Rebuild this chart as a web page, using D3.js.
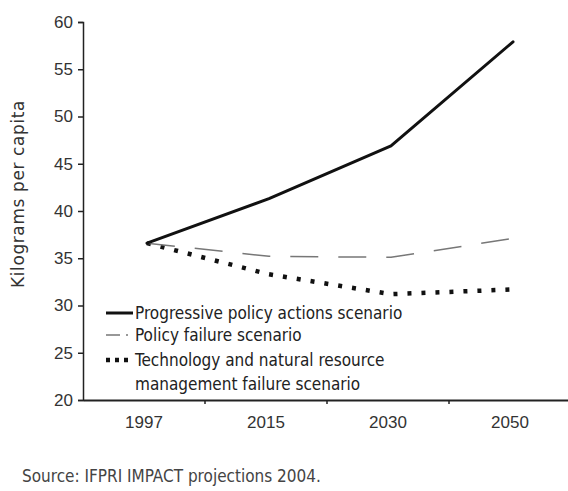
<!DOCTYPE html>
<html>
<head>
<meta charset="utf-8">
<style>
 body { margin: 0; background: #fff; }
 svg { font-family: "DejaVu Sans Condensed", "Liberation Sans Narrow", sans-serif; }
</style>
</head>
<body>
<svg width="568" height="491"></svg>
<script src="https://cdn.jsdelivr.net/npm/d3@7"></script>
<script>
// data
var years = ["1997", "2015", "2030", "2050"];
var progressive = [36.6, 41.3, 46.9, 57.9];
var policyFailure = [36.6, 35.2, 35.1, 37.1];
var techFailure = [36.6, 33.3, 31.2, 31.7];
var yTicks = [20, 25, 30, 35, 40, 45, 50, 55, 60];

var series = [
  { name: "Progressive policy actions scenario", values: progressive, color: "#111", width: 3, dash: null, cap: "round" },
  { name: "Policy failure scenario", values: policyFailure, color: "#777", width: 1.5, dash: "28,20", cap: "butt" },
  { name: "Technology and natural resource|management failure scenario", values: techFailure, color: "#111", width: 4.5, dash: "4,10", cap: "butt" }
];

var svg = d3.select("svg");
var m = { left: 83, right: 571, top: 22, bottom: 400 };

var x = d3.scaleBand().domain(years).range([m.left, m.right]);
var y = d3.scaleLinear().domain([20, 60]).range([m.bottom, m.top]);

// y axis
var yAxisG = svg.append("g")
    .attr("transform", "translate(" + m.left + ",0)")
    .call(d3.axisLeft(y).tickValues(yTicks).tickSize(5).tickPadding(5));
yAxisG.select(".domain").attr("stroke", "#222").attr("stroke-width", 1.5);
yAxisG.selectAll(".tick line").attr("stroke", "#222").attr("stroke-width", 1.5);
yAxisG.selectAll("text").style("font-size", "17px").attr("fill", "#333");

// x axis, ticks on band boundaries
var xAxisG = svg.append("g")
    .attr("transform", "translate(0," + m.bottom + ")")
    .call(d3.axisBottom(x).tickSize(0).tickPadding(16));
xAxisG.select(".domain").attr("stroke", "#222").attr("stroke-width", 2);
xAxisG.selectAll("text").style("font-size", "17px").attr("fill", "#333");
xAxisG.selectAll(".bound")
    .data(years.slice(1))
    .enter().append("line")
    .attr("x1", function(d) { return x(d); })
    .attr("x2", function(d) { return x(d); })
    .attr("y1", 0).attr("y2", 4)
    .attr("stroke", "#222").attr("stroke-width", 1.5);

svg.append("text")
    .attr("transform", "translate(24," + 194 + ") rotate(-90)")
    .attr("text-anchor", "middle")
    .style("font-family", "'DejaVu Sans', sans-serif")
    .style("font-size", "17px")
    .style("letter-spacing", "0.6px")
    .attr("fill", "#333")
    .text("Kilograms per capita");

// lines
var line = d3.line()
    .x(function(d, i) { return x(years[i]) + x.bandwidth() / 2 + 3; })
    .y(function(d) { return y(d); });

series.slice().reverse().forEach(function(s) {
  svg.append("path")
      .datum(s.values)
      .attr("d", line)
      .attr("fill", "none")
      .attr("stroke", s.color)
      .attr("stroke-width", s.width)
      .attr("stroke-dasharray", s.dash)
      .attr("stroke-linecap", s.cap)
      .attr("stroke-linejoin", "round");
});

// legend
var legendY = [313, 335, 360];
var legend = svg.append("g");
series.forEach(function(s, i) {
  var ly = legendY[i];
  legend.append("line")
      .attr("x1", 106).attr("x2", 133)
      .attr("y1", ly).attr("y2", ly)
      .attr("stroke", s.color)
      .attr("stroke-width", s.width)
      .attr("stroke-dasharray", i == 1 ? "14,6,2,10" : (i == 2 ? "4,5" : null));
  s.name.split("|").forEach(function(t, j) {
    legend.append("text")
        .attr("x", 135)
        .attr("y", ly + 6 + j * 24)
        .style("font-size", "17px")
        .attr("fill", "#222")
        .text(t);
  });
});

svg.append("text")
    .attr("x", 22).attr("y", 482)
    .style("font-size", "17px")
    .attr("fill", "#444")
    .text("Source: IFPRI IMPACT projections 2004.");
</script>
</body>
</html>
